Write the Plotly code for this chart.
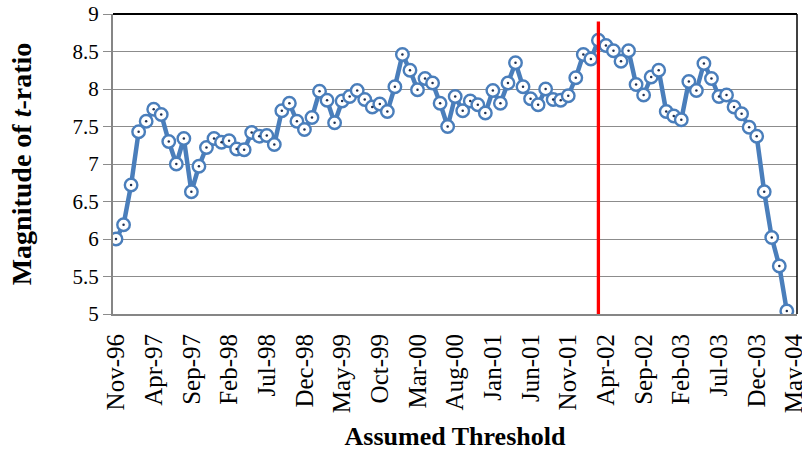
import plotly.graph_objects as go

# Magnitude of t-ratio for each assumed threshold month, Nov-96 .. Apr-04
t_ratio = [
    6.00, 6.19, 6.72, 7.43, 7.57, 7.73, 7.66, 7.30, 7.00, 7.34,
    6.63, 6.97, 7.22, 7.34, 7.29, 7.31, 7.20, 7.19, 7.42, 7.37,
    7.38, 7.26, 7.71, 7.81, 7.57, 7.46, 7.62, 7.97, 7.85, 7.55,
    7.84, 7.90, 7.98, 7.86, 7.76, 7.80, 7.70, 8.03, 8.46, 8.25,
    7.99, 8.14, 8.08, 7.81, 7.50, 7.90, 7.71, 7.84, 7.79, 7.68,
    7.98, 7.81, 8.08, 8.35, 8.03, 7.87, 7.79, 8.00, 7.86, 7.85,
    7.91, 8.15, 8.46, 8.40, 8.65, 8.58, 8.51, 8.37, 8.51, 8.06,
    7.92, 8.16, 8.25, 7.70, 7.64, 7.59, 8.10, 7.98, 8.34, 8.14,
    7.90, 7.92, 7.76, 7.67, 7.49, 7.37, 6.63, 6.02, 5.64, 5.04,
]
month_index = list(range(len(t_ratio)))

tick_positions = list(range(0, 91, 5))
tick_labels = ["Nov-96", "Apr-97", "Sep-97", "Feb-98", "Jul-98", "Dec-98", "May-99",
               "Oct-99", "Mar-00", "Aug-00", "Jan-01", "Jun-01", "Nov-01", "Apr-02",
               "Sep-02", "Feb-03", "Jul-03", "Dec-03", "May-04"]

threshold_index = 64   # Mar-02
threshold_top = 8.9

blue = "#4A7EBB"
font_family = "Liberation Serif"

fig = go.Figure()
fig.add_trace(go.Scatter(
    x=month_index, y=t_ratio, mode="lines+markers",
    line=dict(color=blue, width=4.5),
    marker=dict(symbol="circle", size=12.5, color="white",
                line=dict(color=blue, width=2.4)),
    showlegend=False, hoverinfo="x+y",
))
fig.add_trace(go.Scatter(
    x=month_index, y=t_ratio, mode="markers",
    marker=dict(symbol="circle", size=2.5, color="#1F2F4F"),
    showlegend=False, hoverinfo="skip",
))
fig.add_trace(go.Scatter(
    x=[threshold_index, threshold_index], y=[5, threshold_top], mode="lines",
    line=dict(color="#FF0000", width=3.3), showlegend=False, hoverinfo="skip",
))

fig.update_layout(
    width=802, height=455,
    margin=dict(l=113, r=5, t=14, b=141),
    paper_bgcolor="white", plot_bgcolor="white",
    font=dict(family=font_family, color="black", size=22),
    xaxis=dict(
        range=[-0.4, 90.35], automargin=False,
        tickmode="array", tickvals=tick_positions, ticktext=tick_labels,
        tickangle=-90, tickfont=dict(size=25, family=font_family, color="black"),
        ticklabeloverflow="allow",
        showgrid=False, zeroline=False,
        showline=True, linecolor="#868686", linewidth=2,
        ticks="", ticklabelstandoff=8,
        title=dict(text="<b>Assumed Threshold</b>",
                   font=dict(size=26, family=font_family), standoff=15),
    ),
    yaxis=dict(
        range=[5, 9], tickmode="linear", tick0=5, dtick=0.5, automargin=False,
        tickfont=dict(size=21, family=font_family, color="black"),
        showgrid=True, gridcolor="#8C8C8C", gridwidth=1.3,
        zeroline=False,
        showline=True, linecolor="#868686", linewidth=2,
        ticks="outside", ticklen=8, tickcolor="#8C8C8C", tickwidth=1.3,
        title=dict(text="<b>Magnitude of <i>t</i>-ratio</b>",
                   font=dict(size=28, family=font_family), standoff=33),
    ),
    shapes=[
        dict(type="line", xref="paper", yref="paper", x0=0, x1=1, y0=1, y1=1,
             line=dict(color="black", width=2)),
        dict(type="line", xref="paper", yref="paper", x0=1, x1=1, y0=0, y1=1,
             line=dict(color="black", width=1.5)),
    ],
)

fig.write_html("out.html",
               config={"displayModeBar": False},
               post_script="document.body.style.margin='0';document.body.style.overflow='hidden';")
